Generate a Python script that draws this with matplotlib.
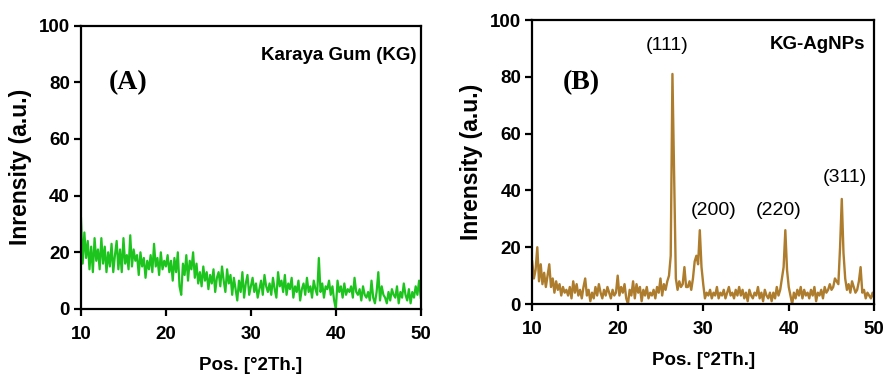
import numpy as np
import matplotlib.pyplot as plt

# 2-theta grid, 0.2 deg step
two_theta = np.round(np.arange(10.0, 50.01, 0.2), 1)

kg = [32, 16, 27, 18, 24, 14, 22, 13, 25, 17, 21,
      14, 25, 16, 22, 13, 20, 15, 23, 13, 19,
      24, 14, 21, 13, 25, 16, 19, 14, 26, 15,
      21, 17, 19, 12, 20, 15, 18, 11, 17, 14,
      19, 13, 23, 15, 18, 12, 20, 14, 17, 15,
      19, 13, 17, 10, 18, 13, 20, 8, 5, 16,
      12, 19, 10, 17, 14, 20, 11, 16, 9, 13,
      8, 15, 10, 13, 7, 12, 9, 14, 6, 11,
      13, 8, 15, 10, 6, 14, 9, 12, 5, 11,
      7, 3, 10, 6, 13, 4, 9, 12, 5, 8,
      11, 6, 9, 4, 7, 10, 5, 12, 8, 6,
      9, 5, 11, 7, 4, 13, 8, 10, 6, 12,
      5, 9, 7, 11, 4, 8, 6, 10, 3, 7,
      9, 5, 11, 6, 8, 4, 10, 7, 5, 18,
      6, 9, 4, 8, 7, 10, 5, 8, 3, 0,
      10, 6, 8, 4, 9, 5, 7, 6, 8, 4,
      11, 6, 5, 7, 3, 8, 5, 4, 6, 3,
      10, 4, 2, 6, 13, 3, 8, 5, 4, 2,
      6, 3, 7, 5, 4, 8, 2, 6, 4, 9,
      5, 3, 7, 2, 6, 4, 8, 5, 10, 4]

kg_agnps = [15, 9, 12, 20, 8, 14, 7, 11, 6, 10, 14,
            6, 9, 4, 8, 5, 7, 3, 6, 4, 5,
            3, 6, 2, 8, 4, 7, 3, 5, 2, 6,
            9, 3, 5, 1, 4, 2, 6, 3, 7, 4,
            2, 5, 3, 6, 4, 2, 5, 3, 4, 10,
            3, 6, 4, 7, 2, 0, 5, 3, 8, 2,
            7, 4, 6, 1, 5, 3, 6, 2, 4, 3,
            5, 2, 6, 4, 9, 3, 7, 5, 8, 10,
            17, 81, 45, 9, 5, 8, 6, 7, 13, 6,
            6, 8, 5, 9, 15, 17, 14, 26, 13, 7,
            2, 4, 3, 5, 2, 4, 3, 6, 2, 4,
            3, 5, 2, 4, 6, 3, 4, 2, 5, 3,
            6, 3, 5, 2, 4, 1, 5, 3, 2, 4,
            3, 6, 2, 4, 1, 5, 3, 2, 4, 1,
            4, 2, 6, 3, 5, 9, 13, 26, 12, 6,
            3, 0, 4, 2, 5, 3, 6, 2, 5, 3,
            4, 2, 5, 3, 6, 1, 4, 3, 5, 2,
            6, 4, 5, 7, 5, 6, 9, 8, 7, 20,
            37, 18, 9, 5, 7, 4, 8, 6, 4, 5,
            8, 13, 4, 5, 2, 4, 3, 2, 4, 2]

peak_labels = ["(111)", "(200)", "(220)", "(311)"]
peak_x = [25.8, 31.2, 38.8, 46.6]
peak_y = [91, 33, 33, 44.7]

plt.rcParams['font.family'] = ['Liberation Sans', 'DejaVu Sans']

fig = plt.figure(figsize=(8.84, 3.81), dpi=100)
ax1 = fig.add_axes([0.0916, 0.189, 0.3844, 0.744])
ax2 = fig.add_axes([0.602, 0.202, 0.387, 0.7455])


def style(ax):
    ax.set_xlim(10, 50)
    ax.set_ylim(0, 100)
    ax.set_xticks([10, 20, 30, 40, 50])
    ax.set_yticks([0, 20, 40, 60, 80, 100])
    for s in ax.spines.values():
        s.set_linewidth(1.6)
    ax.tick_params(direction='out', length=5, width=1.6, pad=3, labelsize=13.5)
    ax.tick_params(axis='x', pad=7)
    for lab in ax.get_xticklabels() + ax.get_yticklabels():
        lab.set_fontweight('bold')
    ax.set_xlabel("Pos. [°2Th.]", fontsize=13.5, fontweight='bold', labelpad=10)
    ax.set_ylabel("Inrensity (a.u.)", fontsize=16.5, fontweight='bold', labelpad=5)


ax1.plot(two_theta, kg, color='#1ec41e', linewidth=1.6)
style(ax1)
ax1.text(49.5, 89.6, "Karaya Gum (KG)", ha='right', va='center',
         fontsize=13.5, fontweight='bold')
ax1.text(15.5, 80, "(A)", ha='center', va='center', fontsize=20,
         fontweight='bold', family='Liberation Serif')

ax2.plot(two_theta, kg_agnps, color='#ad7c2c', linewidth=1.7)
style(ax2)
ax2.text(48.9, 91.2, "KG-AgNPs", ha='right', va='center',
         fontsize=13.5, fontweight='bold')
ax2.text(15.7, 78, "(B)", ha='center', va='center', fontsize=20,
         fontweight='bold', family='Liberation Serif')
for lab, x, y in zip(peak_labels, peak_x, peak_y):
    ax2.text(x, y, lab, ha='center', va='center', fontsize=14)

fig.savefig("out.png", dpi=100)
